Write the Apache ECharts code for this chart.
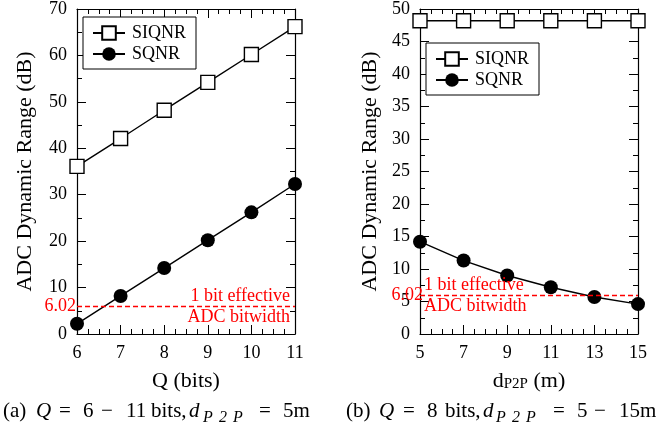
<!DOCTYPE html>
<html>
<head>
<meta charset="utf-8">
<script src="https://cdn.jsdelivr.net/npm/echarts@6/dist/echarts.min.js"></script>
<style>
  html, body { margin: 0; padding: 0; background: #fff; }
  #chart { width: 662px; height: 430px; }
</style>
</head>
<body>
<div id="chart"></div>
<script>
// (a) Q sweep
const qBits = [6, 7, 8, 9, 10, 11]
const siqnrQ = [36.1, 42.1, 48.2, 54.2, 60.2, 66.2]
const sqnrQ = [2.2, 8.2, 14.2, 20.2, 26.2, 32.3]
// (b) distance sweep
const dP2P = [5, 7, 9, 11, 13, 15]
const siqnrD = [48.2, 48.2, 48.2, 48.2, 48.2, 48.2]
const sqnrD = [14.2, 11.3, 9.0, 7.2, 5.7, 4.6]
const oneBit = 6.02

const FONT = 'Liberation Serif'

const chart = echarts.init(document.getElementById('chart'))

function pairs(xs, ys) {
  return xs.map((x, i) => [x, ys[i]])
}

function xAx(gridIndex, min, max, interval, pos, name) {
  const bottom = pos === 'bottom'
  return {
    type: 'value', gridIndex, min, max, interval, position: pos,
    name: bottom ? name : '',
    nameLocation: 'middle',
    nameGap: 36,
    nameTextStyle: {
      color: '#000', fontFamily: FONT, fontSize: 22,
      rich: {
        a: { fontFamily: FONT, fontSize: 22, color: '#000' },
        s: { fontFamily: FONT, fontSize: 15, color: '#000', verticalAlign: 'bottom', lineHeight: 8 }
      }
    },
    axisLine: { show: true, onZero: false, lineStyle: { color: '#000', width: 1.2 } },
    axisTick: { show: true, inside: true, length: 9, lineStyle: { color: '#000', width: 1 } },
    minorTick: { show: true, splitNumber: 4, length: 5, lineStyle: { color: '#000', width: 1 } },
    axisLabel: { show: bottom, color: '#000', fontFamily: FONT, fontSize: 18, margin: 10 },
    splitLine: { show: false }
  }
}

function yAx(gridIndex, min, max, interval, pos, name, gap) {
  const left = pos === 'left'
  return {
    type: 'value', gridIndex, min, max, interval, position: pos,
    name: left ? name : '',
    nameLocation: 'middle',
    nameGap: gap,
    nameTextStyle: { color: '#000', fontFamily: FONT, fontSize: 22 },
    axisLine: { show: true, onZero: false, lineStyle: { color: '#000', width: 1.2 } },
    axisTick: { show: true, inside: true, length: 9, lineStyle: { color: '#000', width: 1 } },
    minorTick: { show: true, splitNumber: 2, length: 5, lineStyle: { color: '#000', width: 1 } },
    axisLabel: { show: left, color: '#000', fontFamily: FONT, fontSize: 18, margin: 10 },
    splitLine: { show: false }
  }
}

const redLabel = { color: '#ff0000', fontFamily: FONT, fontSize: 18 }
const hidden = { color: 'rgba(0,0,0,0)', width: 0 }

function refLine(atEnd) {
  return {
    silent: true,
    symbol: 'none',
    animation: false,
    data: [
      {
        yAxis: oneBit,
        lineStyle: { color: '#ff0000', type: [5, 3], width: 1.3 },
        label: Object.assign({ show: true, position: 'start', formatter: String(oneBit), distance: atEnd ? 1 : -3 }, redLabel)
      },
      {
        yAxis: oneBit + 0.001,
        lineStyle: hidden,
        label: Object.assign({ show: true, position: atEnd ? 'insideEndTop' : 'insideStartTop', formatter: '1 bit effective', distance: atEnd ? [5, 1] : [4, 1] }, redLabel)
      },
      {
        yAxis: oneBit - 0.001,
        lineStyle: hidden,
        label: Object.assign({ show: true, position: atEnd ? 'insideEndBottom' : 'insideStartBottom', formatter: 'ADC bitwidth', distance: atEnd ? [5, 2] : [4, 2] }, redLabel)
      }
    ]
  }
}

function siqnr(xi, yi, data) {
  return {
    name: 'SIQNR', type: 'line', xAxisIndex: xi, yAxisIndex: yi,
    data, clip: false, symbol: 'rect', symbolSize: 14,
    lineStyle: { color: '#000', width: 1.4 },
    itemStyle: { color: '#fff', borderColor: '#000', borderWidth: 1.4 },
    z: 3
  }
}

function sqnr(xi, yi, data, atEnd) {
  return {
    name: 'SQNR', type: 'line', xAxisIndex: xi, yAxisIndex: yi,
    data, clip: false, symbol: 'circle', symbolSize: 14,
    lineStyle: { color: '#000', width: 1.4 },
    itemStyle: { color: '#000' },
    markLine: refLine(atEnd),
    z: 3
  }
}

function legend(left, top) {
  return {
    left, top, orient: 'vertical',
    data: ['SIQNR', 'SQNR'],
    itemWidth: 32, itemHeight: 17, itemGap: 3,
    padding: [7, 10, 6, 9],
    borderColor: '#000', borderWidth: 1, backgroundColor: '#fff',
    textStyle: { color: '#000', fontFamily: FONT, fontSize: 18, padding: [0, 0, 0, 2] },
    selectedMode: false
  }
}

// caption pieces: [text, x, kind]  kind: t = upright, i = italic, s = italic subscript
const capA = [
  ['(a)', 3, 't'], ['Q', 36, 'i'], ['=', 59, 't'], ['6', 83, 't'], ['−', 101, 't'], ['11', 126, 't'],
  ['bits,', 151, 't'], ['d', 189, 'i'], ['P', 203, 's'], ['2', 219, 's'], ['P', 233, 's'], ['=', 259, 't'], ['5m', 283, 't']
]
const capB = [
  ['(b)', 346, 't'], ['Q', 379, 'i'], ['=', 403, 't'], ['8', 427, 't'], ['bits,', 445, 't'],
  ['d', 483, 'i'], ['P', 496, 's'], ['2', 512, 's'], ['P', 526, 's'], ['=', 553, 't'], ['5', 577, 't'],
  ['−', 594, 't'], ['15m', 619, 't']
]

function caption(pieces) {
  return pieces.map(([text, x, kind]) => ({
    type: 'text', x, y: kind === 's' ? 410 : 401,
    style: {
      text,
      fontFamily: FONT,
      fontSize: kind === 's' ? 16 : 21,
      fontStyle: kind === 't' ? 'normal' : 'italic',
      fill: '#000'
    }
  }))
}

chart.setOption({
  backgroundColor: '#fff',
  animation: false,
  grid: [
    { left: 77, top: 7, width: 218, height: 327 },
    { left: 420, top: 7, width: 218, height: 327 }
  ],
  legend: [legend(83, 17), legend(426, 43)],
  xAxis: [
    xAx(0, 6, 11, 1, 'bottom', 'Q (bits)'),
    xAx(0, 6, 11, 1, 'top', ''),
    xAx(1, 5, 15, 2, 'bottom', '{a|d}{s|P2P}{a| (m)}'),
    xAx(1, 5, 15, 2, 'top', '')
  ],
  yAxis: [
    yAx(0, 0, 70, 10, 'left', 'ADC Dynamic Range (dB)', 41),
    yAx(0, 0, 70, 10, 'right', '', 0),
    yAx(1, 0, 50, 5, 'left', 'ADC Dynamic Range (dB)', 39),
    yAx(1, 0, 50, 5, 'right', '', 0)
  ],
  graphic: caption(capA).concat(caption(capB)),
  series: [
    siqnr(0, 0, pairs(qBits, siqnrQ)),
    sqnr(0, 0, pairs(qBits, sqnrQ), true),
    siqnr(2, 2, pairs(dP2P, siqnrD)),
    sqnr(2, 2, pairs(dP2P, sqnrD), false)
  ]
})
</script>
</body>
</html>
